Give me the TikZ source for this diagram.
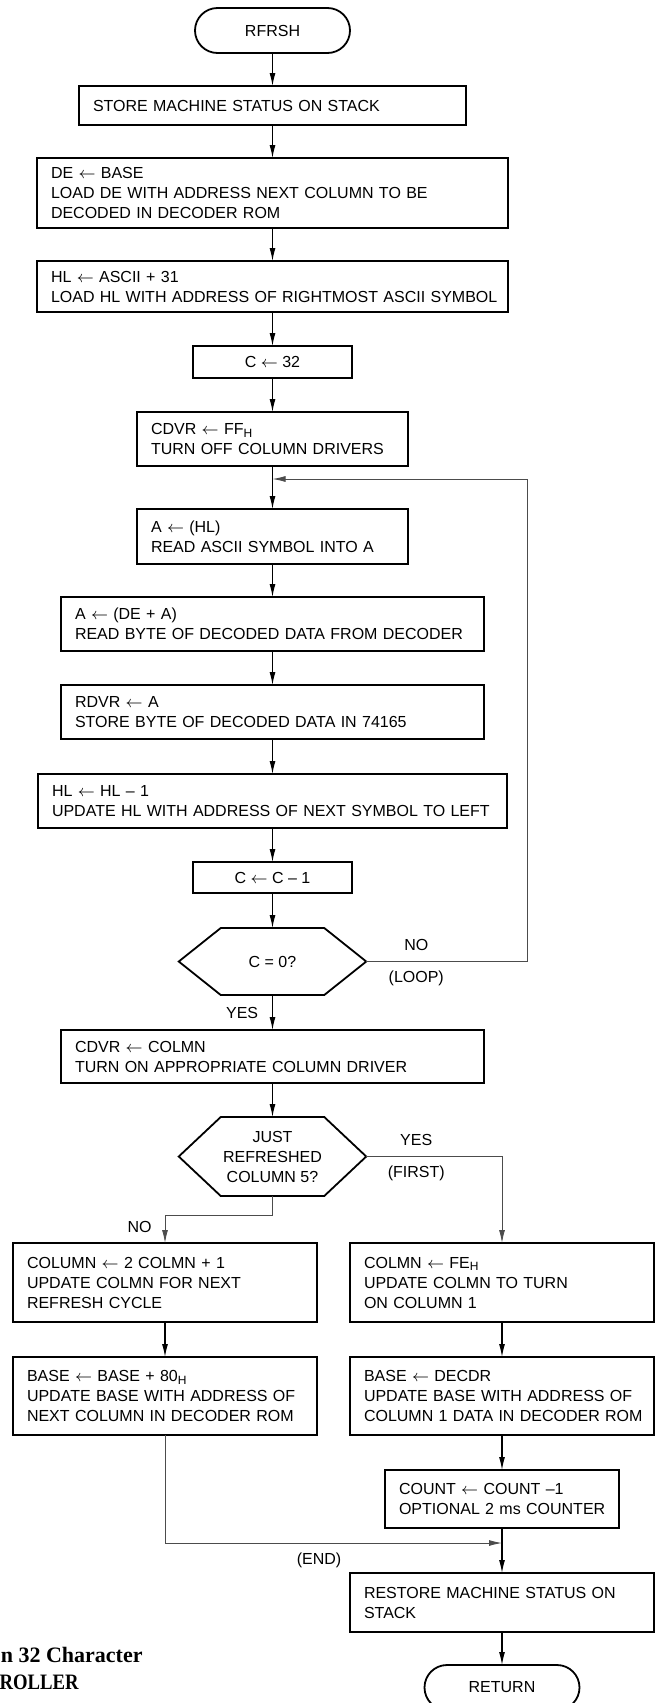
\documentclass[tikz,border=0pt]{standalone}
\usepackage{fontspec}
\setmainfont{Liberation Sans}
\newfontfamily\capfont{Liberation Serif}
\usepackage{tikz}
\usetikzlibrary{shapes,arrows.meta,positioning}
\tikzstyle{block} = [rectangle, draw, line width=0.9pt, text width=197.5pt,
    align=left, inner xsep=7pt, inner ysep=2pt, outer sep=0pt, minimum height=27pt]
\tikzstyle{smallbox} = [rectangle, draw, line width=0.9pt, minimum width=79.5pt,
    minimum height=16pt, inner sep=2pt, outer sep=0pt]
\tikzstyle{terminal} = [rectangle, draw, line width=0.9pt, rounded corners=11.25pt,
    minimum width=77.5pt, minimum height=22.5pt, outer sep=0pt]
\tikzstyle{decision} = [minimum width=51.75pt, inner sep=0pt, outer sep=0pt, align=center]
\tikzstyle{line} = [draw, line width=0.55pt, -{Latex[length=6.5pt,width=3pt]}]
\tikzstyle{branch} = [line, line width=0.45pt, black!70]
\tikzstyle{lbl} = [inner sep=0pt]

\begin{document}
\begin{tikzpicture}[node distance=17pt, font=\fontsize{8}{10}\selectfont]
    \useasboundingbox (0,0) rectangle (327.5pt,-851.5pt);
    % Place nodes
    \node [terminal] (rfrsh) at (136.25pt,-15.25pt) {RFRSH};
    \node [block, text width=179.5pt, minimum height=19.5pt, below=16.5pt of rfrsh] (store) {STORE MACHINE STATUS ON STACK};
    \node [block, text width=221.5pt, minimum height=35pt, below=16.5pt of store] (de) {DE $\gets$ BASE\\LOAD DE WITH ADDRESS NEXT COLUMN TO BE\\DECODED IN DECODER ROM};
    \node [block, text width=221.5pt, minimum height=25.5pt, below=16.5pt of de] (hl) {HL $\gets$ ASCII + 31\\\mbox{LOAD HL WITH ADDRESS OF RIGHTMOST ASCII SYMBOL}};
    \node [smallbox, below=17pt of hl] (c32) {C $\gets$ 32};
    \node [block, text width=121.5pt, below=17pt of c32] (cdvr) {CDVR $\gets$ FF\textsubscript{H}\\TURN OFF COLUMN DRIVERS};
    \node [block, text width=121.5pt, minimum height=27.5pt, below=21.5pt of cdvr] (readsym) {A $\gets$ (HL)\\READ ASCII SYMBOL INTO A};
    \node [block, below=16.5pt of readsym] (readbyte) {A $\gets$ (DE + A)\\\mbox{READ BYTE OF DECODED DATA FROM DECODER}};
    \node [block, below=17pt of readbyte] (rdvr) {RDVR $\gets$ A\\STORE BYTE OF DECODED DATA IN 74165};
    \node [block, text width=220.5pt, below=17.5pt of rdvr] (hldec) {HL $\gets$ HL -- 1\\\mbox{UPDATE HL WITH ADDRESS OF NEXT SYMBOL TO LEFT}};
    \node [smallbox, minimum height=15.5pt, below=17pt of hldec] (cdec) {C $\gets$ C -- 1};
    \node [decision, minimum height=33.5pt, below=17.5pt of cdec] (czero) {C = 0?};
    \node [block, minimum height=26.5pt, below=17.5pt of czero] (cdvrcol) {CDVR $\gets$ COLMN\\TURN ON APPROPRIATE COLUMN DRIVER};
    \node [decision, minimum height=39.5pt, below=17pt of cdvrcol] (just) {JUST\\REFRESHED\\COLUMN 5?};
    \node [block, text width=138pt, minimum height=39.5pt, below=23.5pt of just, xshift=-53.75pt] (colinc) {COLUMN $\gets$ 2 COLMN + 1\\UPDATE COLMN FOR NEXT\\REFRESH CYCLE};
    \node [block, text width=138pt, minimum height=39.5pt, below=23.5pt of just, xshift=114.75pt] (colfe) {COLMN $\gets$ FE\textsubscript{H}\\UPDATE COLMN TO TURN\\ON COLUMN 1};
    \node [block, text width=138pt, minimum height=39pt, below=17.5pt of colinc] (baseinc) {BASE $\gets$ BASE + 80\textsubscript{H}\\\mbox{UPDATE BASE WITH ADDRESS OF}\\\mbox{NEXT COLUMN IN DECODER ROM}};
    \node [block, text width=138pt, minimum height=39pt, below=17.5pt of colfe] (basedec) {BASE $\gets$ DECDR\\\mbox{UPDATE BASE WITH ADDRESS OF}\\\mbox{COLUMN 1 DATA IN DECODER ROM}};
    \node [block, text width=103pt, minimum height=29pt, below=17.5pt of basedec] (count) {COUNT $\gets$ COUNT --1\\\mbox{OPTIONAL 2 ms COUNTER}};
    \node [block, text width=138pt, minimum height=29.5pt, below=22.5pt of count] (restore) {RESTORE MACHINE STATUS ON\\STACK};
    \node [terminal, below=16.5pt of restore] (return) {RETURN};

    % hexagon outlines
    \foreach \h in {czero,just} {
        \coordinate (\h-r) at ([xshift=21pt]\h.east);
        \coordinate (\h-l) at ([xshift=-21pt]\h.west);
        \draw [line width=0.9pt] (\h.north west) -- (\h.north east) -- (\h-r)
            -- (\h.south east) -- (\h.south west) -- (\h-l) -- cycle;
    }
    \coordinate (loopin) at ([yshift=-6.5pt]cdvr.south);
    \coordinate (endin) at ([yshift=-7.5pt]count.south);

    % labels
    \node [lbl] (no1) at ([xshift=25pt,yshift=8.25pt]czero-r) {NO};
    \node [lbl] (loop) at ([xshift=25pt,yshift=-8.25pt]czero-r) {(LOOP)};
    \node [lbl, anchor=east] (yes1) at ([xshift=-7pt,yshift=-9pt]czero.south) {YES};
    \node [lbl] (yes2) at ([xshift=25pt,yshift=8.5pt]just-r) {YES};
    \node [lbl] (first) at ([xshift=25pt,yshift=-8.5pt]just-r) {(FIRST)};
    \node [lbl, anchor=east] (no2) at ([xshift=-6.5pt,yshift=8pt]colinc.north) {NO};
    \node [lbl] (end) at ([xshift=-91.5pt,yshift=-8.5pt]endin) {(END)};

    % caption
    \node [lbl, anchor=east, font=\capfont\bfseries\fontsize{11}{13}\selectfont] (cap1) at (71.5pt,-827.5pt) {n 32 Character};
    \node [lbl, anchor=east, xscale=0.85, transform shape, font=\capfont\bfseries\fontsize{11}{13}\selectfont] (cap2) at (39.5pt,-841pt) {ROLLER};

  \path [line] (rfrsh) -- (store);
  \path [line] (store) -- (de);
  \path [line] (de) -- (hl);
  \path [line] (hl) -- (c32);
  \path [line] (c32) -- (cdvr);
  \path [line] (cdvr) -- (readsym);
  \path [line] (readsym) -- (readbyte);
  \path [line] (readbyte) -- (rdvr);
  \path [line] (rdvr) -- (hldec);
  \path [line] (hldec) -- (cdec);
  \path [line] (cdec) -- (czero);
  \path [line] (czero) -- (cdvrcol);
  \path [line] (cdvrcol) -- (just);
  \path [line] (colinc) -- (baseinc);
  \path [line] (colfe) -- (basedec);
  \path [line] (basedec) -- (count);
  \path [line] (count) -- (restore);
  \path [line] (restore) -- (return);
  \path [branch] (czero-r) -- ++(80.5pt,0) |- (loopin);
  \path [branch] (just-r) -| (colfe);
  \path [branch] (just.south) -- ++(0,-9.5pt) -| (colinc);
  \path [branch] (baseinc) |- (endin);
\end{tikzpicture}
\end{document}
